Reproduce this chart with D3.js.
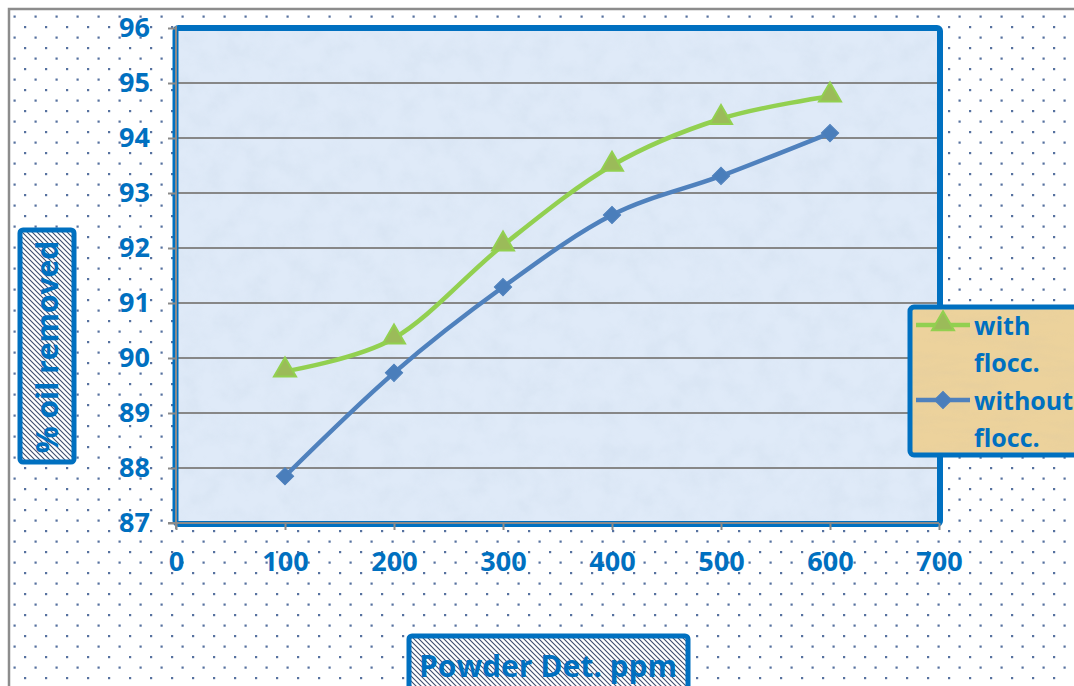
<!DOCTYPE html>
<html>
<head>
<meta charset="utf-8">
<script src="https://cdn.jsdelivr.net/npm/d3@7"></script>
<style>
  html, body { margin: 0; padding: 0; background: #ffffff; }
  svg { display: block; }
</style>
</head>
<body>
<svg id="chart" width="1074" height="686"></svg>
<script>
// Oil removal versus powder detergent dose
const doses = [100, 200, 300, 400, 500, 600];
const withFlocc = [89.76, 90.36, 92.05, 93.5, 94.35, 94.76];
const withoutFlocc = [87.85, 89.73, 91.29, 92.6, 93.31, 94.09];
const xTicks = [0, 100, 200, 300, 400, 500, 600, 700];
const yTicks = [87, 88, 89, 90, 91, 92, 93, 94, 95, 96];
const seriesNames = ["with flocc.", "without flocc."];
const xTitle = "Powder Det. ppm";
const yTitle = "% oil removed";

const W = 1074, H = 686;
const blue = "#0070c0";
const font = "'Open Sans', 'Liberation Sans', sans-serif";

const svg = d3.select("#chart");
const defs = svg.append("defs");

// dotted backdrop of the chart area
const dots = defs.append("pattern").attr("id", "dots")
  .attr("patternUnits", "userSpaceOnUse").attr("width", 21).attr("height", 21)
  .attr("x", 3).attr("y", 5);
dots.append("rect").attr("width", 21).attr("height", 21).attr("fill", "#ffffff");
dots.append("rect").attr("x", 0).attr("y", 0).attr("width", 2.2).attr("height", 2.2).attr("fill", "#56719f");
dots.append("rect").attr("x", 10.5).attr("y", 10.5).attr("width", 2.2).attr("height", 2.2).attr("fill", "#56719f");

// diagonal hatching behind the axis titles
const hatch = defs.append("pattern").attr("id", "hatch")
  .attr("patternUnits", "userSpaceOnUse").attr("width", 5).attr("height", 5);
hatch.append("rect").attr("width", 5).attr("height", 5).attr("fill", "#ffffff");
hatch.append("path").attr("d", "M-1,-1 L6,6 M-1,4 L1,6 M4,-1 L6,1")
  .attr("stroke", "#3d4d6e").attr("stroke-width", 1.1);

// mottled textures
const mottle = defs.append("filter").attr("id", "mottle")
  .attr("x", 0).attr("y", 0).attr("width", 1).attr("height", 1);
mottle.append("feTurbulence").attr("type", "fractalNoise")
  .attr("baseFrequency", 0.045).attr("numOctaves", 4).attr("seed", 7).attr("result", "n");
mottle.append("feColorMatrix").attr("in", "n").attr("type", "matrix")
  .attr("values", "0 0 0 0 0.6  0 0 0 0 0.7  0 0 0 0 0.82  1.2 0 0 0 -0.45");

const paper = defs.append("filter").attr("id", "paper")
  .attr("x", 0).attr("y", 0).attr("width", 1).attr("height", 1);
paper.append("feTurbulence").attr("type", "fractalNoise")
  .attr("baseFrequency", "0.02 0.09").attr("numOctaves", 4).attr("seed", 3).attr("result", "n");
paper.append("feColorMatrix").attr("in", "n").attr("type", "matrix")
  .attr("values", "0 0 0 0 0.75  0 0 0 0 0.6  0 0 0 0 0.35  1.4 0 0 0 -0.55");

// chart area
svg.append("rect").attr("x", 8).attr("y", 8).attr("width", W).attr("height", H)
  .attr("fill", "url(#dots)");
svg.append("path").attr("d", `M9,${H} L9,9 L${W},9`)
  .attr("fill", "none").attr("stroke", "#8c8c8c").attr("stroke-width", 2.5);

// scales
const x = d3.scaleLinear().domain([0, 700]).range([176, 939]);
const y = d3.scaleLinear().domain([87, 96]).range([523, 28]);

// plot area
const px = x(0), py = y(96), pw = x(700) - x(0), ph = y(87) - y(96);
svg.append("rect").attr("x", px).attr("y", py).attr("width", pw).attr("height", ph)
  .attr("fill", "#dfeaf8");
svg.append("rect").attr("x", px).attr("y", py).attr("width", pw).attr("height", ph)
  .attr("filter", "url(#mottle)").attr("opacity", 0.5);

// gridlines
svg.append("g").selectAll("line").data(yTicks.filter(d => d > 87 && d < 96)).join("line")
  .attr("x1", px).attr("x2", px + pw)
  .attr("y1", d => y(d)).attr("y2", d => y(d))
  .attr("stroke", "#878787").attr("stroke-width", 2);

// plot border
svg.append("rect").attr("x", px - 0.5).attr("y", py).attr("width", pw + 1.5).attr("height", ph + 1)
  .attr("rx", 3).attr("fill", "none").attr("stroke", blue).attr("stroke-width", 6);

// axes
const yAxis = svg.append("g").attr("transform", `translate(${px},0)`)
  .call(d3.axisLeft(y).tickValues(yTicks).tickSize(8).tickPadding(18).tickSizeOuter(0));
const xAxis = svg.append("g").attr("transform", `translate(0,${y(87)})`)
  .call(d3.axisBottom(x).tickValues(xTicks).tickSize(7).tickPadding(22).tickSizeOuter(0));
[yAxis, xAxis].forEach(g => {
  g.select(".domain").attr("stroke", "#8a8a8a").attr("stroke-width", 2);
  g.selectAll(".tick line").attr("stroke", "#8a8a8a").attr("stroke-width", 2);
  g.selectAll(".tick text").attr("fill", blue).attr("font-family", font)
    .attr("font-weight", 700).attr("font-size", 27);
});
yAxis.select(".domain").attr("d", `M0,${y(96) - 2}V${y(87) + 6}`);
xAxis.select(".domain").attr("d", `M${x(0) - 8},0H${x(700)}`);

// series
const line = d3.line().x(d => x(d[0])).y(d => y(d[1])).curve(d3.curveCatmullRom.alpha(0));
const seriesWith = doses.map((d, i) => [d, withFlocc[i]]);
const seriesWithout = doses.map((d, i) => [d, withoutFlocc[i]]);

const triangle = d3.symbol().type(d3.symbolTriangle).size(210);
const diamond = d3.symbol().type(d3.symbolSquare).size(150);

svg.append("path").datum(seriesWithout).attr("d", line)
  .attr("fill", "none").attr("stroke", "#4f81bd").attr("stroke-width", 4.5);
svg.append("g").selectAll("path").data(seriesWithout).join("path")
  .attr("d", diamond)
  .attr("transform", d => `translate(${x(d[0])},${y(d[1])}) rotate(45)`)
  .attr("fill", "#4a7ebb").attr("stroke", "#4f81bd").attr("stroke-width", 1);

svg.append("path").datum(seriesWith).attr("d", line)
  .attr("fill", "none").attr("stroke", "#92d050").attr("stroke-width", 4.5);
svg.append("g").selectAll("path").data(seriesWith).join("path")
  .attr("d", triangle)
  .attr("transform", d => `translate(${x(d[0])},${y(d[1]) - 1})`)
  .attr("fill", "#9bbb59").attr("stroke", "#92d050").attr("stroke-width", 2);

// legend
const lg = svg.append("g");
lg.append("rect").attr("x", 910).attr("y", 307).attr("width", 200).attr("height", 148)
  .attr("rx", 4).attr("fill", "#ecd29c");
lg.append("rect").attr("x", 910).attr("y", 307).attr("width", 200).attr("height", 148)
  .attr("filter", "url(#paper)").attr("opacity", 0.6);
lg.append("rect").attr("x", 910).attr("y", 307).attr("width", 200).attr("height", 148)
  .attr("rx", 4).attr("fill", "none").attr("stroke", blue).attr("stroke-width", 5);

const legendRows = [
  { name: seriesNames[0], color: "#92d050", y: 325, marker: triangle, fill: "#9bbb59", rot: 0 },
  { name: seriesNames[1], color: "#4f81bd", y: 400, marker: diamond, fill: "#4a7ebb", rot: 45 }
];
legendRows.forEach(r => {
  lg.append("line").attr("x1", 916).attr("x2", 970).attr("y1", r.y).attr("y2", r.y)
    .attr("stroke", r.color).attr("stroke-width", 4.5);
  lg.append("path").attr("d", r.marker)
    .attr("transform", `translate(943,${r.y - (r.rot ? 0 : 1)}) rotate(${r.rot})`)
    .attr("fill", r.fill).attr("stroke", r.color).attr("stroke-width", r.rot ? 1 : 2);
  const words = r.name.split(" ");
  const t = lg.append("text").attr("font-family", font).attr("font-weight", 700)
    .attr("font-size", 25).attr("fill", blue);
  words.forEach((w, i) => {
    t.append("tspan").attr("x", 974).attr("y", r.y + 10 + i * 37).text(w);
  });
});

// axis titles
svg.append("rect").attr("x", 20).attr("y", 230).attr("width", 54).attr("height", 232)
  .attr("rx", 3).attr("fill", "url(#hatch)").attr("stroke", blue).attr("stroke-width", 5);
svg.append("text").attr("transform", "translate(58,347) rotate(-90)")
  .attr("text-anchor", "middle").attr("font-family", font).attr("font-weight", 700)
  .attr("font-size", 30).attr("fill", blue).text(yTitle);

svg.append("rect").attr("x", 409).attr("y", 636).attr("width", 279).attr("height", 80)
  .attr("rx", 3).attr("fill", "url(#hatch)").attr("stroke", blue).attr("stroke-width", 5);
svg.append("text").attr("x", 548).attr("y", 677)
  .attr("text-anchor", "middle").attr("font-family", font).attr("font-weight", 700)
  .attr("font-size", 30).attr("fill", blue).text(xTitle);
</script>
</body>
</html>
